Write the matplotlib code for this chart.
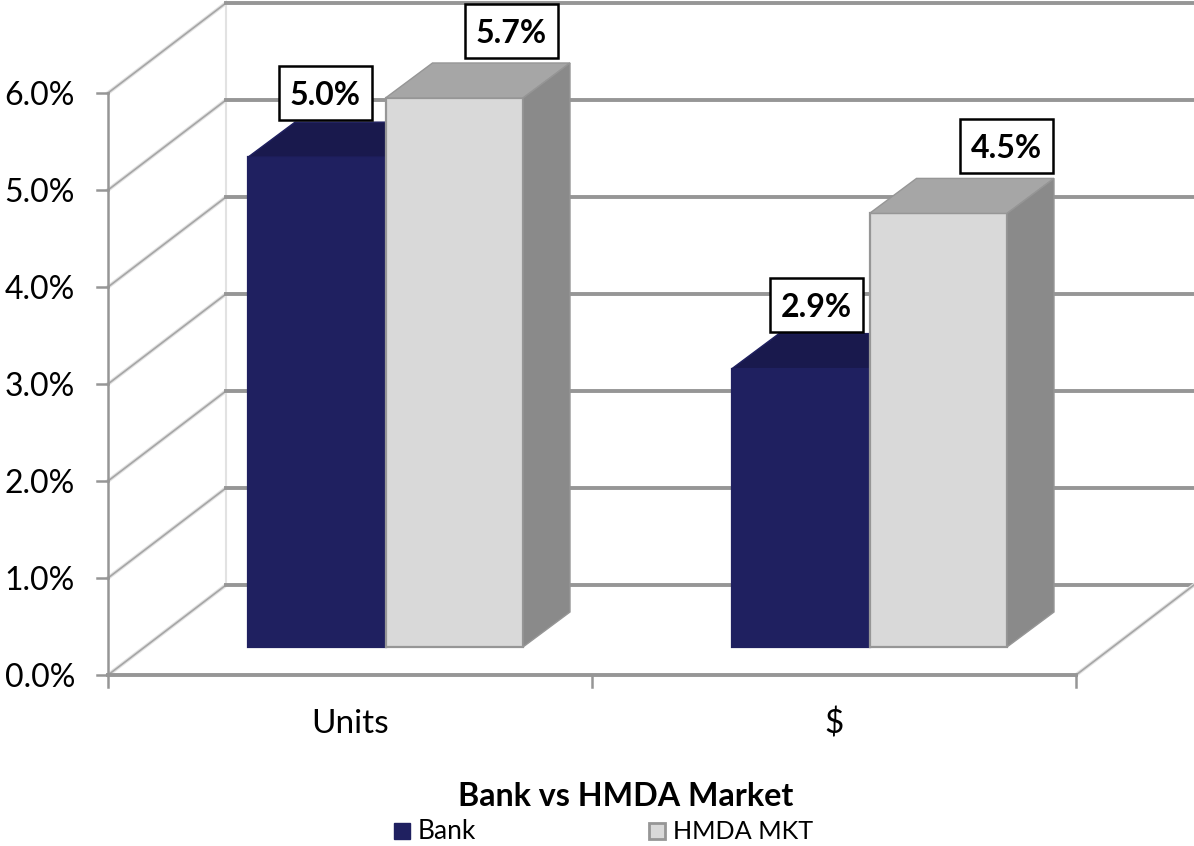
"""
Bank vs HMDA Market, a 3D looking clustered column chart
"""

import matplotlib
matplotlib.use('Agg')
import matplotlib.pyplot as plt
from matplotlib.patches import Rectangle

categories = ['Units', '$']
series_names = ['Bank', 'HMDA MKT']
bank_values = [5.05, 2.87]
hmda_values = [5.66, 4.47]
bank_labels = ['5.0%', '2.9%']
hmda_labels = ['5.7%', '4.5%']
y_ticks = [0, 1, 2, 3, 4, 5, 6]
y_tick_labels = ['0.0%', '1.0%', '2.0%', '3.0%', '4.0%', '5.0%', '6.0%']

PX_W, PX_H = 1194, 846
X0_PX, Y0_PX = 108, 675
PX_PER_CAT = 484.0
PX_PER_PCT = 97.0

# depth offsets, in data units
WALL_DX, WALL_DY = 118 / PX_PER_CAT, 90 / PX_PER_PCT
FLOOR_DY = 28 / PX_PER_PCT
BAR_DX, BAR_DY = 47 / PX_PER_CAT, 35 / PX_PER_PCT

BAR_W = 137.5 / PX_PER_CAT
BAR_START = 140 / PX_PER_CAT

GRID = '#969696'
SIDE = '#e2e2e2'
NAVY = '#1f2060'
LIGHT = '#d9d9d9'

plt.rcParams['font.family'] = ['Lato', 'DejaVu Sans']


def px_x(x):
    return (x - X0_PX) / PX_PER_CAT


def px_y(y):
    return (Y0_PX - y) / PX_PER_PCT


def draw_bar(ax, left, value, front, top, side, edge, z):
    floor = FLOOR_DY
    ax.bar(left, value, BAR_W, bottom=floor, align='edge', color=front,
           edgecolor=edge, linewidth=1.6, zorder=z)
    right = left + BAR_W
    height = floor + value
    ax.fill([left, left + BAR_DX, right + BAR_DX, right],
            [height, height + BAR_DY, height + BAR_DY, height],
            color=top, edgecolor=edge, linewidth=1, zorder=z)
    ax.fill([right, right + BAR_DX, right + BAR_DX, right],
            [floor, floor + BAR_DY, height + BAR_DY, height],
            color=side, edgecolor=edge, linewidth=1, zorder=z)


def value_box(ax, cx_px, cy_px, label):
    ax.add_patch(Rectangle((px_x(cx_px - 46.5), px_y(cy_px + 27)), 93 / PX_PER_CAT, 54 / PX_PER_PCT,
                           fc='white', ec='black', lw=1.8, zorder=9))
    ax.text(px_x(cx_px), px_y(cy_px + 12), label, fontsize=23, fontweight='bold',
            ha='center', va='baseline', color='black', zorder=10)


fig = plt.figure(figsize=(PX_W / 100, PX_H / 100), dpi=100)
ax = fig.add_axes([0, 0, 1, 1])
ax.set_xlim(px_x(0), px_x(PX_W))
ax.set_ylim(px_y(PX_H), px_y(0))
ax.axis('off')

# walls and grid
ax.plot([WALL_DX, WALL_DX], [WALL_DY, 6 + WALL_DY], color=SIDE, lw=1.5, zorder=1)
for tick in y_ticks:
    ax.plot([0, WALL_DX], [tick, tick + WALL_DY], color=SIDE, lw=2.8, zorder=1)
    ax.plot([0, WALL_DX], [tick, tick + WALL_DY], color='#a6a6a6', lw=1.2, zorder=1)
    ax.plot([WALL_DX, px_x(PX_W)], [tick + WALL_DY, tick + WALL_DY], color=GRID, lw=2.8, zorder=1)
    ax.plot([-11 / PX_PER_CAT, 0], [tick, tick], color=GRID, lw=1.8, zorder=2)
    ax.text(px_x(75), px_y(Y0_PX - tick * PX_PER_PCT + 12), y_tick_labels[tick], fontsize=23,
            ha='right', va='baseline', color='black')
ax.plot([0, 0], [0, 6], color=GRID, lw=1.8, zorder=2)
ax.plot([0, 2], [0, 0], color=GRID, lw=2.8, zorder=2)
ax.plot([2, 2 + WALL_DX], [0, WALL_DY], color=SIDE, lw=2.8, zorder=1)
ax.plot([2, 2 + WALL_DX], [0, WALL_DY], color='#a6a6a6', lw=1.2, zorder=1)
for i in range(3):
    ax.plot([i, i], [0, -12 / PX_PER_PCT], color=GRID, lw=1.8, zorder=2)

# bars
for i, cat in enumerate(categories):
    left = i + BAR_START
    draw_bar(ax, left, bank_values[i], NAVY, '#19194d', '#19194d', NAVY, 3)
    draw_bar(ax, left + BAR_W, hmda_values[i], LIGHT, '#a6a6a6', '#8a8a8a', GRID, 4)
    ax.text(i + 0.5, px_y(724), cat, fontsize=24, ha='center', va='center', color='black')

value_box(ax, 325, 93, bank_labels[0])
value_box(ax, 511, 31, hmda_labels[0])
value_box(ax, 816, 305, bank_labels[1])
value_box(ax, 1006, 146, hmda_labels[1])

ax.text(px_x(626), px_y(796), 'Bank vs HMDA Market', fontsize=23.2, fontweight='bold',
        ha='center', va='center', color='black')

# legend
ax.add_patch(Rectangle((px_x(394), px_y(839)), 16 / PX_PER_CAT, 16 / PX_PER_PCT,
                       fc=NAVY, ec=NAVY, lw=1, zorder=5))
ax.text(px_x(418), px_y(831), series_names[0], fontsize=19, ha='left', va='center', color='black')
ax.add_patch(Rectangle((px_x(649), px_y(839)), 16 / PX_PER_CAT, 16 / PX_PER_PCT,
                       fc=LIGHT, ec=GRID, lw=2, zorder=5))
ax.text(px_x(673), px_y(831), series_names[1], fontsize=18.2, ha='left', va='center', color='black')

fig.savefig('out.png', dpi=100)
